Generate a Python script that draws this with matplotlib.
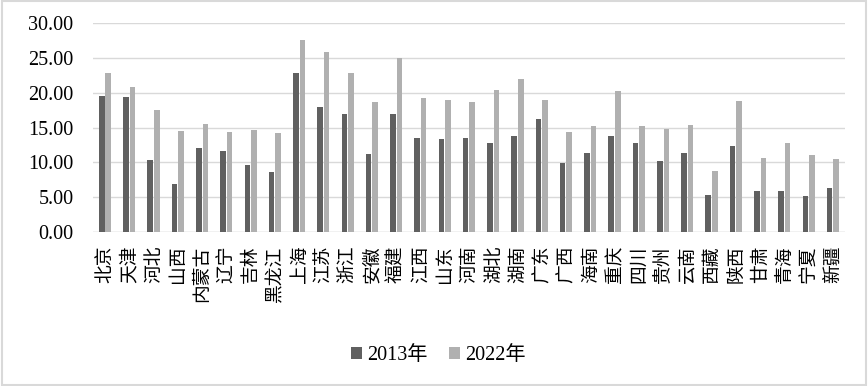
import numpy as np
import matplotlib
matplotlib.use('Agg')
from matplotlib import pyplot as plt
from matplotlib.patches import Rectangle

provinces = ['北京', '天津', '河北', '山西', '内蒙古', '辽宁', '吉林', '黑龙江', '上海', '江苏',
             '浙江', '安徽', '福建', '江西', '山东', '河南', '湖北', '湖南', '广东', '广西',
             '海南', '重庆', '四川', '贵州', '云南', '西藏', '陕西', '甘肃', '青海', '宁夏', '新疆']
v2013 = [19.57, 19.43, 10.38, 6.94, 12.11, 11.67, 9.67, 8.66, 22.87, 17.99,
         16.99, 11.24, 16.99, 13.54, 13.40, 13.54, 12.82, 13.83, 16.27, 9.95,
         11.39, 13.83, 12.82, 10.24, 11.39, 5.36, 12.39, 5.93, 5.93, 5.22, 6.36]
v2022 = [22.87, 20.86, 17.56, 14.55, 15.55, 14.40, 14.69, 14.26, 27.60, 25.89,
         22.87, 18.71, 25.02, 19.28, 18.99, 18.71, 20.43, 22.01, 18.99, 14.40,
         15.26, 20.29, 15.26, 14.83, 15.41, 8.80, 18.85, 10.67, 12.82, 11.10, 10.53]
yticks = [0, 5, 10, 15, 20, 25, 30]
series_names = ['2013年', '2022年']

serif = ['Liberation Serif', 'Noto Sans CJK SC']
cjk = ['Noto Sans CJK SC', 'DejaVu Sans']

fig = plt.figure(figsize=(8.68, 3.86), dpi=100)
ax = fig.add_axes([0.107, 0.399, 0.8665, 0.5406])

x = np.arange(len(provinces))
w = 0.23
ax.bar(x - 0.135, v2013, width=w, color='#606060', label=series_names[0], zorder=3)
ax.bar(x + 0.135, v2022, width=w, color='#b0b0b0', label=series_names[1], zorder=3)

ax.set_xlim(-0.5, len(provinces) - 0.5)
ax.set_ylim(0, 30)
ax.set_yticks(yticks)
ax.set_yticklabels(['%.2f' % t for t in yticks], family=serif, fontsize=14.5)
ax.set_xticks(x)
ax.set_xticklabels(provinces, rotation=90, family=cjk, fontsize=13.5, va='top')
ax.tick_params(axis='both', length=0, colors='#000000')
ax.tick_params(axis='y', pad=14)
ax.tick_params(axis='x', pad=10)
ax.grid(axis='y', color='#d9d9d9', lw=1, zorder=0)
for s in ax.spines.values():
    s.set_visible(False)
ax.axhline(0, color='#d9d9d9', lw=1, zorder=2)

leg = fig.legend(loc='center', bbox_to_anchor=(0.505, 0.079), ncol=2, frameon=False,
                 prop={'family': serif, 'size': 14.5}, handlelength=0.55, handleheight=0.55,
                 handletextpad=0.25, columnspacing=1.1)

fig.patches.append(Rectangle((0.002, 0.003), 0.996, 0.994, transform=fig.transFigure,
                             fill=False, edgecolor='#d9d9d9', lw=1.5))

fig.savefig('out.png', dpi=100)
